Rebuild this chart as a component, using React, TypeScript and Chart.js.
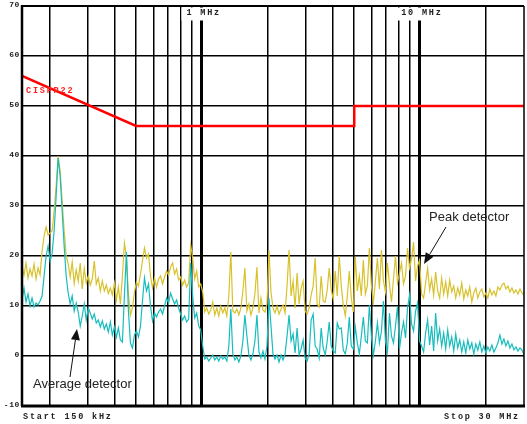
import React, { useEffect, useRef } from "react";
import { Chart, registerables } from "chart.js";

Chart.register(...registerables);

// Sweep: 150 kHz .. 30 MHz, log spaced analyzer points
const F_START = 150e3;
const F_STOP = 30e6;
const SWEEP_POINTS = 251;

// Peak detector trace (dBµV)
const peakValues = [
  18, 16.2, 18.6, 15.6, 17.4, 16, 18.4, 15.4, 17.6, 16.2,
  21, 24, 25.8, 24.2, 24.6, 25, 29, 34, 40, 37,
  31, 25, 20, 18.5, 15.8, 18.8, 14.5, 17.2, 15, 18.6,
  13.4, 17.5, 14.6, 16, 14.2, 15.4, 19, 14.4, 15.6, 13,
  15, 13, 14.2, 12.5, 13.6, 12.2, 14.6, 11.2, 13.8, 10.4,
  16, 22.6, 20, 12.5, 8.2, 9.6, 12.8, 14.8, 14, 16.4,
  19, 21.6, 19.6, 20.4, 16, 13.6, 15.6, 13.8, 15.4, 16,
  14.4, 15.8, 17, 16.2, 17.8, 18.6, 16.4, 17.4, 15.2, 15.8,
  14.2, 15.2, 13.8, 14.6, 22.2, 19.6, 15.4, 17, 13.8, 14.4,
  12.8, 8.8, 9.6, 8.4, 9.2, 10.8, 8.2, 9.6, 8, 10,
  8.6, 9.6, 8, 12, 20.8, 9, 8.6, 9.4, 8.2, 9.6,
  13, 17.6, 9, 10.4, 8.2, 9.6, 12.5, 17.8, 8.6, 11.6,
  9.2, 8.8, 10.4, 21.2, 12.8, 9.6, 8.6, 10, 8.4, 9.4,
  10.2, 8.6, 14, 21.2, 12, 15, 9.6, 16.6, 10.4, 13.6,
  15, 9, 8.4, 9.6, 12.2, 14, 19.6, 10.4, 9.8, 16,
  11, 10.8, 13.2, 17.6, 13.2, 11.4, 17, 12, 20, 14,
  10.2, 8, 12, 17, 11.6, 8.8, 19.8, 13, 16, 12,
  19.2, 12.4, 14, 21.6, 14, 10.8, 15, 19.6, 13.4, 21.2,
  15, 12.8, 18.6, 14.4, 10.8, 15.4, 20, 14.6, 16.6, 18.6,
  14.4, 16, 21.6, 17.6, 19.4, 22.8, 15, 18, 19.2, 12.4,
  11.6, 14.6, 17.6, 13.2, 15.4, 12.2, 16.8, 13, 11.6, 15.6,
  12.4, 14.8, 12, 15.2, 12.8, 14, 11.6, 13.6, 12.2, 14.6,
  11.4, 13.2, 12, 13.8, 10.8, 12.6, 13.6, 11.6, 12.8, 13.4,
  11.8, 12.6, 11.6, 13.4, 12.2, 13, 12, 13.8, 13.2, 14.2,
  14.6, 13.4, 14, 12.8, 13.6, 12.6, 13.2, 12.4, 13.4, 12.6, 12.2,
];

// Average detector trace (dBµV)
const avgValues = [
  11.2, 13.6, 10.8, 12.4, 10, 11.6, 9.8, 10.6, 10.2, 11,
  12, 16, 20, 22, 19, 20.5, 25, 32, 39.6, 36,
  29, 22, 16, 12.6, 10.4, 12, 9, 10.6, 8.8, 6,
  8, 10.4, 7.2, 9.6, 8.6, 7.4, 8.4, 6.6, 7.2, 5.8,
  7, 5.4, 6.4, 4.8, 6.8, 4.2, 5.8, 3.8, 5.6, 3.2,
  2.8, 12, 20.8, 9, 2.6, 1.6, 4.2, 5, 3.8, 6,
  11, 15.6, 13, 14.4, 10, 7, 8.6, 7.8, 8.8, 9.4,
  8.4, 10, 11.6, 10.6, 12.6, 11.4, 10.4, 11.2, 9.6, 8.4,
  7.2, 8, 6.8, 7.4, 18.6, 12, 7.6, 8.6, 6, 5.2,
  2, -0.6, -0.2, -1, -0.4, 0.2, -0.8, -0.2, -1, 0,
  -0.6, -0.2, -1, 2, 9.4, 0.4, -0.8, -0.2, -1.2, 0,
  3, 8.2, 4, 0.2, -0.8, 0.4, 3, 8.2, 0.8, -0.4,
  1, -0.6, 2, 11.6, 6, 0.4, -0.6, 0.2, -1.2, 0.2,
  -0.8, 0.4, 4, 8.2, 3, 4.4, 0.6, 5.6, 0.2, 1.4,
  3.2, -0.4, -1, 0.4, 7.2, 8.4, 2, 1.4, -0.4, 5.6,
  1.6, 0.2, 3, 6.8, 2, 1, 0.6, 6.6, 5.4, 5.6,
  1.2, 0.4, 2.6, 7.8, 2, 1.4, 5.8, 2.6, 0.4, 4,
  7.8, 3, 2.6, 10.2, 4, 0.2, 3, 6.6, 2.6, 5,
  11, 3, 0.8, 8.6, 4, 2.6, 6, 10, 1.4, 4.6,
  6.8, 3.6, 9.6, 12.2, 6.4, 5, 9, 10.6, 3, 2,
  0.8, 4.6, 7.2, 2.2, 6, 1, 8.6, 3, 5.4, 2,
  4.6, 1.4, 5.2, 2, 3.8, 1, 4.4, 1.6, 3.2, 0.8,
  2.8, 0.6, 3.2, 1.4, 2.6, 0.4, 2.4, 1.2, 2.8, 0.8,
  2, 0.6, 1.8, 1, 2.2, 0.8, 1.6, 2.6, 4.2, 2.4,
  3.4, 2, 3, 1.6, 2.4, 1.2, 1.8, 1, 1.6, 1.2, 0.2,
];

// CISPR 22 limit line
const limitFreqs = [150e3, 500e3, 5e6, 5e6, 30e6];
const limitValues = [56, 46, 46, 50, 50];

const yTickValues = [70, 60, 50, 40, 30, 20, 10, 0, -10];
const xGridFreqs = [
  2e5, 3e5, 4e5, 5e5, 6e5, 7e5, 8e5, 9e5, 1e6,
  2e6, 3e6, 4e6, 5e6, 6e6, 7e6, 8e6, 9e6, 1e7, 2e7,
];
const markerFreqs = [1e6, 1e7];
const markerLabels = ["1 MHz", "10 MHz"];
const startLabel = "Start 150 kHz";
const stopLabel = "Stop 30 MHz";
const limitLabel = "CISPR22";

const PEAK_COLOR = "#d8c22c";
const AVG_COLOR = "#17bdbd";

const sweepFreqs = Array.from(
  { length: SWEEP_POINTS },
  (_, i) => F_START * Math.pow(F_STOP / F_START, i / (SWEEP_POINTS - 1))
);

function arrow(ctx: CanvasRenderingContext2D, x0: number, y0: number, x1: number, y1: number) {
  const ang = Math.atan2(y1 - y0, x1 - x0);
  const len = 11;
  const half = 4.5;
  const bx = x1 - len * Math.cos(ang);
  const by = y1 - len * Math.sin(ang);
  ctx.beginPath();
  ctx.moveTo(x0, y0);
  ctx.lineTo(bx, by);
  ctx.strokeStyle = "#111";
  ctx.lineWidth = 1;
  ctx.stroke();
  ctx.beginPath();
  ctx.moveTo(x1, y1);
  ctx.lineTo(bx + half * Math.sin(ang), by - half * Math.cos(ang));
  ctx.lineTo(bx - half * Math.sin(ang), by + half * Math.cos(ang));
  ctx.closePath();
  ctx.fillStyle = "#111";
  ctx.fill();
}

const decorPlugin = {
  id: "decor",
  afterDraw(chart: any) {
    const ctx: CanvasRenderingContext2D = chart.ctx;
    const { left, right, top, bottom } = chart.chartArea;
    const xs = chart.scales.x;
    const ys = chart.scales.y;
    ctx.save();

    // frame
    ctx.strokeStyle = "#000";
    ctx.lineWidth = 2;
    ctx.beginPath();
    ctx.moveTo(left, top);
    ctx.lineTo(right, top);
    ctx.stroke();
    ctx.lineWidth = 1.5;
    ctx.beginPath();
    ctx.moveTo(right, top);
    ctx.lineTo(right, bottom);
    ctx.stroke();
    ctx.lineWidth = 2.5;
    ctx.beginPath();
    ctx.moveTo(left, top - 1);
    ctx.lineTo(left, bottom);
    ctx.stroke();
    ctx.lineWidth = 3;
    ctx.beginPath();
    ctx.moveTo(left - 1, bottom);
    ctx.lineTo(right + 1, bottom);
    ctx.stroke();

    // y tick labels
    ctx.font = "bold 8px 'Liberation Mono', monospace";
    (ctx as any).letterSpacing = "0.6px";
    ctx.fillStyle = "#222";
    ctx.textAlign = "right";
    ctx.textBaseline = "middle";
    yTickValues.forEach((v) => {
      const y = ys.getPixelForValue(v);
      ctx.fillText(String(v), left - 2, y - 1.5);
    });

    // marker labels with white boxes
    ctx.font = "bold 8.5px 'Liberation Mono', monospace";
    (ctx as any).letterSpacing = "1.8px";
    ctx.textAlign = "center";
    markerFreqs.forEach((f, i) => {
      const x = xs.getPixelForValue(f);
      const w = ctx.measureText(markerLabels[i]).width + 4;
      ctx.fillStyle = "#fff";
      ctx.fillRect(x - w / 2 - 1, top + 1.5, w, 13);
      ctx.fillStyle = "#222";
      ctx.fillText(markerLabels[i], x + 2, top + 6.5);
    });

    // start / stop
    ctx.textAlign = "left";
    ctx.fillStyle = "#222";
    ctx.fillText(startLabel, left + 1, bottom + 11);
    ctx.textAlign = "right";
    ctx.fillText(stopLabel, right - 4, bottom + 11);

    // limit label
    ctx.textAlign = "left";
    ctx.fillStyle = "#ff2020";
    ctx.fillText(limitLabel, left + 4, ys.getPixelForValue(53));

    // annotations
    (ctx as any).letterSpacing = "0px";
    ctx.font = "13px 'Liberation Sans', Arial, sans-serif";
    ctx.fillStyle = "#222";
    ctx.textAlign = "left";
    ctx.fillText("Peak detector", 429, 217);
    ctx.fillText("Average detector", 33, 384);
    arrow(ctx, 446, 227, 424, 264);
    arrow(ctx, 70, 377, 77, 329);

    ctx.restore();
  },
};

export default function App() {
  const ref = useRef<HTMLCanvasElement>(null);

  useEffect(() => {
    const canvas = ref.current;
    if (!canvas) return;
    const chart = new Chart(canvas, {
      type: "line",
      data: {
        datasets: [
          {
            label: "CISPR22",
            data: limitFreqs.map((f, i) => ({ x: f, y: limitValues[i] })),
            borderColor: "#ff0000",
            borderWidth: 2.5,
            pointRadius: 0,
            tension: 0,
          },
          {
            label: "Average detector",
            data: sweepFreqs.map((f, i) => ({ x: f, y: avgValues[i] })),
            borderColor: AVG_COLOR,
            borderWidth: 1.2,
            pointRadius: 0,
            tension: 0,
          },
          {
            label: "Peak detector",
            data: sweepFreqs.map((f, i) => ({ x: f, y: peakValues[i] })),
            borderColor: PEAK_COLOR,
            borderWidth: 1.2,
            pointRadius: 0,
            tension: 0,
          },
        ],
      },
      options: {
        animation: false,
        responsive: false,
        devicePixelRatio: 1,
        layout: { padding: { left: 22, top: 6, right: 3, bottom: 18 } },
        plugins: { legend: { display: false }, tooltip: { enabled: false } },
        scales: {
          x: {
            type: "logarithmic",
            min: F_START,
            max: F_STOP,
            afterBuildTicks: (s: any) => {
              s.ticks = xGridFreqs.map((v) => ({ value: v }));
            },
            ticks: { display: false },
            border: { display: false },
            grid: {
              color: "#000",
              drawTicks: false,
              lineWidth: (c: any) =>
                c.tick && markerFreqs.includes(c.tick.value) ? 3 : 1.5,
            },
          },
          y: {
            min: -10,
            max: 70,
            afterBuildTicks: (s: any) => {
              s.ticks = yTickValues.map((v) => ({ value: v }));
            },
            ticks: { display: false },
            border: { display: false },
            grid: { color: "#000", drawTicks: false, lineWidth: 1.5 },
          },
        },
      },
      plugins: [decorPlugin],
    } as any);
    return () => chart.destroy();
  }, []);

  return (
    <div style={{ position: "fixed", left: 0, top: 0, width: 527, height: 424, background: "#fff" }}>
      <canvas ref={ref} width={527} height={424} style={{ width: 527, height: 424 }} />
    </div>
  );
}
